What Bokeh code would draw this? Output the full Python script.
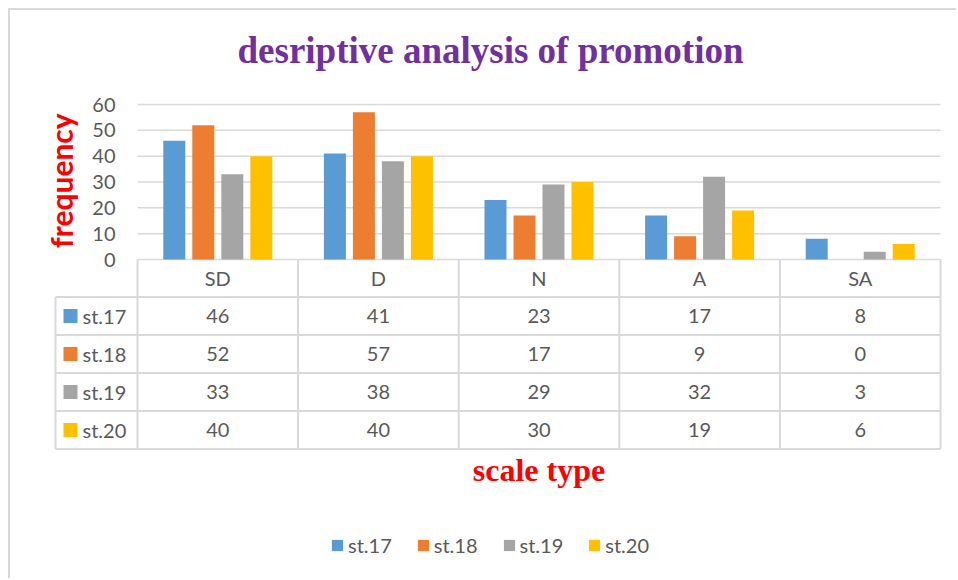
from bokeh.plotting import figure
from bokeh.models import Range1d, Legend, LegendItem
from bokeh.core.properties import value
from bokeh.embed import file_html
from bokeh.resources import INLINE
import math

# ---------------- data ----------------
categories = ["SD", "D", "N", "A", "SA"]
series = ["st.17", "st.18", "st.19", "st.20"]
st17 = [46, 41, 23, 17, 8]
st18 = [52, 57, 17, 9, 0]
st19 = [33, 38, 29, 32, 3]
st20 = [40, 40, 30, 19, 6]
y_ticks = [0, 10, 20, 30, 40, 50, 60]
title_text = "desriptive analysis of promotion"
y_title = "frequency"
x_title = "scale type"

# ---------------- style / layout ----------------
colors = ["#5B9BD5", "#ED7D31", "#A5A5A5", "#FFC000"]
TXT = "#595959"
LINE = "#D9D9D9"
SANS = "Lato"
SERIF = "Liberation Serif"

W, H = 948, 570
COL_PX = 160.6          # pixels per category column
Y_PX = 155 / 60         # pixels per value unit
X0_PX = 127             # canvas x of first column's left edge
Y0_PX = 249             # canvas y of value 0

p = figure(width=W, height=H, output_backend="svg", toolbar_location=None,
           x_range=Range1d(-X0_PX / COL_PX, (W - X0_PX) / COL_PX),
           y_range=Range1d(-(H - Y0_PX) / Y_PX, Y0_PX / Y_PX),
           min_border=0)
p.axis.visible = False
p.grid.visible = False
p.outline_line_color = None
p.background_fill_color = "white"
p.border_fill_color = "white"
p.styles = {"border-top": "2px solid #D9D9D9", "border-left": "2px solid #D9D9D9",
            "margin-left": "8px", "margin-top": "8px"}

ncat = len(categories)
values = [st17, st18, st19, st20]

# gridlines
p.segment(x0=[0] * len(y_ticks), x1=[ncat] * len(y_ticks), y0=y_ticks, y1=y_ticks,
          line_color=LINE, line_width=1.5)

# y tick labels
p.text(x=[0] * len(y_ticks), y=y_ticks, text=[str(t) for t in y_ticks],
       x_offset=-22, text_align="right", text_baseline="middle",
       text_font=value(SANS), text_font_size=value("20px"), text_color=TXT)

# bars
step = 29 / COL_PX
bw = 22 / COL_PX
renderers = []
for k, (name, vals) in enumerate(zip(series, values)):
    off = (k - (len(series) - 1) / 2) * step
    xs = [i + 0.5 + off for i in range(ncat)]
    r = p.vbar(x=xs, top=vals, bottom=0, width=bw, fill_color=colors[k], line_color=None)
    renderers.append(r)

# data table
header_h = 37.5 / Y_PX
row_h = 38 / Y_PX
lab_w = 82 / COL_PX
bottom = header_h + len(series) * row_h

# vertical lines
p.segment(x0=list(range(ncat + 1)), x1=list(range(ncat + 1)),
          y0=[0] * (ncat + 1), y1=[-bottom] * (ncat + 1), line_color=LINE, line_width=2)
p.segment(x0=[-lab_w], x1=[-lab_w], y0=[-header_h], y1=[-bottom], line_color=LINE, line_width=2)
# horizontal lines
hy = [-(header_h + r * row_h) for r in range(len(series) + 1)]
p.segment(x0=[-lab_w] * len(hy), x1=[ncat] * len(hy), y0=hy, y1=hy, line_color=LINE, line_width=2)

# header
p.text(x=[i + 0.5 for i in range(ncat)], y=[-header_h / 2] * ncat, text=categories,
       text_align="center", text_baseline="middle",
       text_font=value(SANS), text_font_size=value("20px"), text_color=TXT)
# cells
for k, vals in enumerate(values):
    yc = -(header_h + (k + 0.5) * row_h)
    p.text(x=[i + 0.5 for i in range(ncat)], y=[yc] * ncat, text=[str(v) for v in vals],
           text_align="center", text_baseline="middle",
           text_font=value(SANS), text_font_size=value("20px"), text_color=TXT)
# row labels with keys
row_y = [-(header_h + (k + 0.5) * row_h) for k in range(len(series))]
p.scatter(x=[-lab_w + 15 / COL_PX] * len(series), y=row_y, marker="square", size=14,
          fill_color=colors, line_color=None)
p.text(x=[-lab_w] * len(series), y=row_y, text=series, x_offset=27,
       text_align="left", text_baseline="middle",
       text_font=value(SANS), text_font_size=value("20px"), text_color=TXT)

# titles
p.text(x=[2.198], y=[80.9], text=[title_text], text_align="center", text_baseline="middle",
       text_font=value(SERIF), text_font_style="bold", text_font_size=value("37px"),
       text_color="#7030A0")
p.text(x=[-lab_w], y=[30.5], text=[y_title], angle=math.pi / 2, x_offset=5,
       text_align="center", text_baseline="middle",
       text_font=value(SANS), text_font_style="bold", text_font_size=value("30px"),
       text_color="#FF0000")
p.text(x=[ncat / 2], y=[-bottom], text=[x_title], y_offset=21, text_align="center",
       text_baseline="middle",
       text_font=value(SERIF), text_font_style="bold", text_font_size=value("32px"),
       text_color="#FF0000")

legend = Legend(items=[LegendItem(label=s, renderers=[r]) for s, r in zip(series, renderers)],
                orientation="horizontal", location=(320, 23),
                glyph_width=14, glyph_height=14, label_standoff=4, spacing=24,
                padding=0, margin=0, border_line_color=None, background_fill_alpha=0,
                label_text_font=SANS, label_text_font_size="20px", label_text_color=TXT,
                label_height=20)
p.add_layout(legend)

open("out.html", "w").write(file_html(p, INLINE))
